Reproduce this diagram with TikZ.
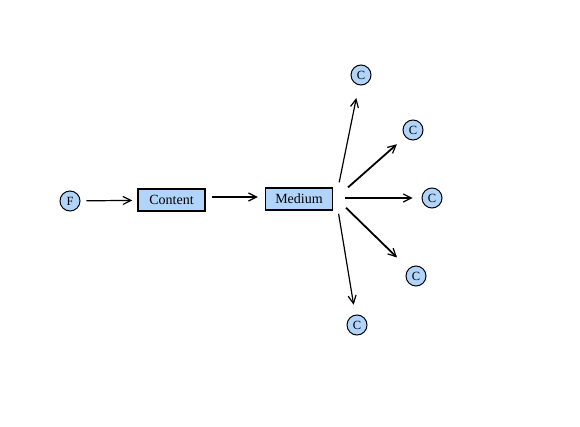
\documentclass[tikz,border=0pt]{standalone}
\usepackage{fontspec}
\setmainfont{Liberation Serif}
\usetikzlibrary{arrows.meta}
\definecolor{nodeblue}{RGB}{176,212,250}
\tikzset{
  box/.style={draw, line width=1.5pt, fill=nodeblue, minimum width=67pt, minimum height=22pt, inner sep=0pt, font=\fontsize{14}{15}\selectfont},
  circ/.style={draw, line width=1pt, circle, fill=nodeblue, minimum size=20pt, inner sep=0pt, font=\fontsize{12.5}{13}\selectfont},
  conn/.style={line width=1.2pt, -{Straight Barb[length=8pt,width=8pt,line width=1.2pt]}},
  thick conn/.style={conn, line width=1.8pt}
}
\begin{document}
\begin{tikzpicture}[x=1pt,y=-1pt]
\useasboundingbox (0,0) rectangle (580,427);
\node[circ] (f) at (70,201) {F};
\node[box] (content) at (171.5,200) {Content};
\node[box] (medium) at (299,199) {Medium};
\node[circ] (c1) at (361,75) {C};
\node[circ] (c2) at (413,130) {C};
\node[circ] (c3) at (432,198) {C};
\node[circ] (c4) at (416,276) {C};
\node[circ] (c5) at (357,325) {C};
\coordinate (hub) at (336,198);
\draw[conn, shorten <=6pt, shorten >=5pt] (f) -- (content);
\draw[conn, shorten <=6pt, shorten >=7pt] (content.east |- 0,197) -- (medium.west |- 0,197);
\draw[conn, shorten <=16pt, shorten >=13pt] (hub) -- (c1);
\draw[thick conn, shorten <=16pt, shorten >=11pt] (hub) -- (c2);
\draw[conn, shorten <=9pt, shorten >=9pt] (hub) -- (c3);
\draw[thick conn, shorten <=14pt, shorten >=16pt] (hub) -- (c4);
\draw[conn, shorten <=16pt, shorten >=10pt] (hub) -- (c5);
\end{tikzpicture}
\end{document}
